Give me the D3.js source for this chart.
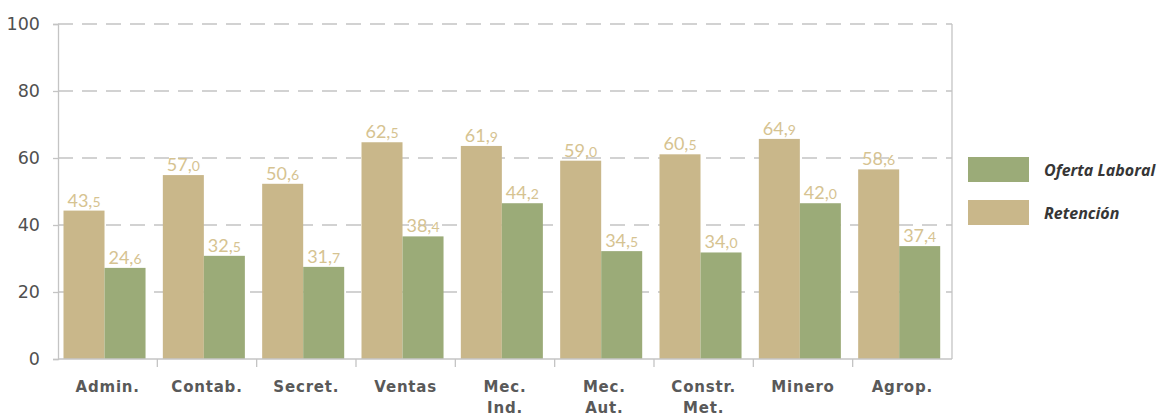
<!DOCTYPE html>
<html>
<head>
<meta charset="utf-8">
<script src="https://cdn.jsdelivr.net/npm/d3@7"></script>
<style>
  html, body { margin: 0; padding: 0; background: #fff; }
  #chart { width: 1162px; height: 418px; }
</style>
</head>
<body>
<div id="chart"></div>
<script>
// 数据
const categories = ['Admin.', 'Contab.', 'Secret.', 'Ventas', 'Mec. Ind.', 'Mec. Aut.', 'Constr. Met.', 'Minero', 'Agrop.'];
const retencion = [44.3, 54.9, 52.3, 64.7, 63.6, 59.2, 61.1, 65.7, 56.6];
const oferta = [27.2, 30.8, 27.5, 36.6, 46.5, 32.2, 31.8, 46.5, 33.7];
const retencionLabels = ['43,5', '57,0', '50,6', '62,5', '61,9', '59,0', '60,5', '64,9', '58,6'];
const ofertaLabels = ['24,6', '32,5', '31,7', '38,4', '44,2', '34,5', '34,0', '42,0', '37,4'];
const yTicks = [0, 20, 40, 60, 80, 100];
const seriesNames = ['Oferta Laboral', 'Retención'];

const colorRet = '#c9b78a';
const colorOfe = '#9bab78';
const labelColor = '#d6c391';
const axisColor = '#c4c4c4';

const margin = {top: 24, left: 58};
const width = 894;
const height = 335;

const svg = d3.select('#chart')
    .append('svg')
    .attr('width', 1162)
    .attr('height', 418);

const g = svg.append('g')
    .attr('transform', `translate(${margin.left},${margin.top})`);

// 比例尺
const x0 = d3.scaleBand().domain(categories).range([0, width]);
const x1 = d3.scaleBand().domain(['ret', 'ofe']).range([5.5, x0.bandwidth() - 11.8]);
const y = d3.scaleLinear().domain([0, 100]).range([height, 0]);

// 网格线
g.append('g')
    .selectAll('line')
    .data(yTicks.filter(d => d > 0))
    .enter()
    .append('line')
    .attr('x1', 0)
    .attr('x2', width)
    .attr('y1', d => y(d))
    .attr('y2', d => y(d))
    .style('stroke', axisColor)
    .style('stroke-width', 1.3)
    .style('stroke-dasharray', '15,9');

// Y轴
const yAxis = g.append('g')
    .call(d3.axisLeft(y).tickValues(yTicks).tickSize(5).tickPadding(13));
yAxis.select('.domain').style('stroke', axisColor).style('stroke-width', 1.3);
yAxis.selectAll('.tick line').style('stroke', axisColor).style('stroke-width', 1.3);
yAxis.selectAll('text')
    .style('font-family', '"DejaVu Sans", sans-serif')
    .style('font-size', '17.5px')
    .style('fill', '#505050');

// 右侧边框
g.append('line')
    .attr('x1', width).attr('x2', width)
    .attr('y1', 0).attr('y2', height)
    .style('stroke', axisColor)
    .style('stroke-width', 1.3);

// 柱状图
const groups = g.selectAll('.cat')
    .data(categories)
    .enter()
    .append('g')
    .attr('class', 'cat')
    .attr('transform', d => `translate(${x0(d)},0)`);

groups.append('rect')
    .attr('x', x1('ret'))
    .attr('width', x1.bandwidth())
    .attr('y', (d, i) => y(retencion[i]))
    .attr('height', (d, i) => height - y(retencion[i]))
    .attr('fill', colorRet);

groups.append('rect')
    .attr('x', x1('ofe'))
    .attr('width', x1.bandwidth())
    .attr('y', (d, i) => y(oferta[i]))
    .attr('height', (d, i) => height - y(oferta[i]))
    .attr('fill', colorOfe);

// 数值标签（小数位字号较小）
function addLabel(sel, key, vals, labels) {
    const t = sel.append('text')
        .attr('x', x1(key) + x1.bandwidth() / 2)
        .attr('y', (d, i) => y(vals[i]) - 4)
        .attr('text-anchor', 'middle')
        .style('font-family', 'Lato, sans-serif')
        .style('font-size', '18px')
        .style('fill', labelColor);
    t.append('tspan').text((d, i) => labels[i].split(',')[0] + ',');
    t.append('tspan').style('font-size', '14px').text((d, i) => labels[i].split(',')[1]);
}
addLabel(groups, 'ret', retencion, retencionLabels);
addLabel(groups, 'ofe', oferta, ofertaLabels);

// X轴
g.append('line')
    .attr('x1', 0).attr('x2', width)
    .attr('y1', height).attr('y2', height)
    .style('stroke', axisColor)
    .style('stroke-width', 1.5);

g.selectAll('.xtick')
    .data(categories.slice(1))
    .enter()
    .append('line')
    .attr('x1', d => x0(d)).attr('x2', d => x0(d))
    .attr('y1', height).attr('y2', height + 8)
    .style('stroke', axisColor)
    .style('stroke-width', 1.3);

const xl = groups.append('text')
    .attr('x', x0.bandwidth() / 2)
    .attr('y', height + 33)
    .attr('text-anchor', 'middle')
    .style('font-family', '"DejaVu Sans", sans-serif')
    .style('font-weight', 'bold')
    .style('font-size', '15px')
    .style('letter-spacing', '0.8px')
    .style('fill', '#595959');
xl.selectAll('tspan')
    .data(d => d.split(' '))
    .enter()
    .append('tspan')
    .attr('x', x0.bandwidth() / 2)
    .attr('dy', (d, i) => i === 0 ? 0 : 21)
    .text(d => d);

// 图例
const legend = svg.append('g')
    .attr('transform', 'translate(968,157)');
const legendColors = [colorOfe, colorRet];
seriesNames.forEach((name, i) => {
    legend.append('rect')
        .attr('x', 0)
        .attr('y', i * 43)
        .attr('width', 61)
        .attr('height', 25)
        .attr('fill', legendColors[i]);
    legend.append('text')
        .attr('x', 76)
        .attr('y', i * 43 + 19)
        .style('font-family', '"Open Sans", sans-serif')
        .style('font-weight', 'bold')
        .style('font-style', 'italic')
        .style('font-size', '16px')
        .style('fill', '#363636')
        .text(name);
});
</script>
</body>
</html>
